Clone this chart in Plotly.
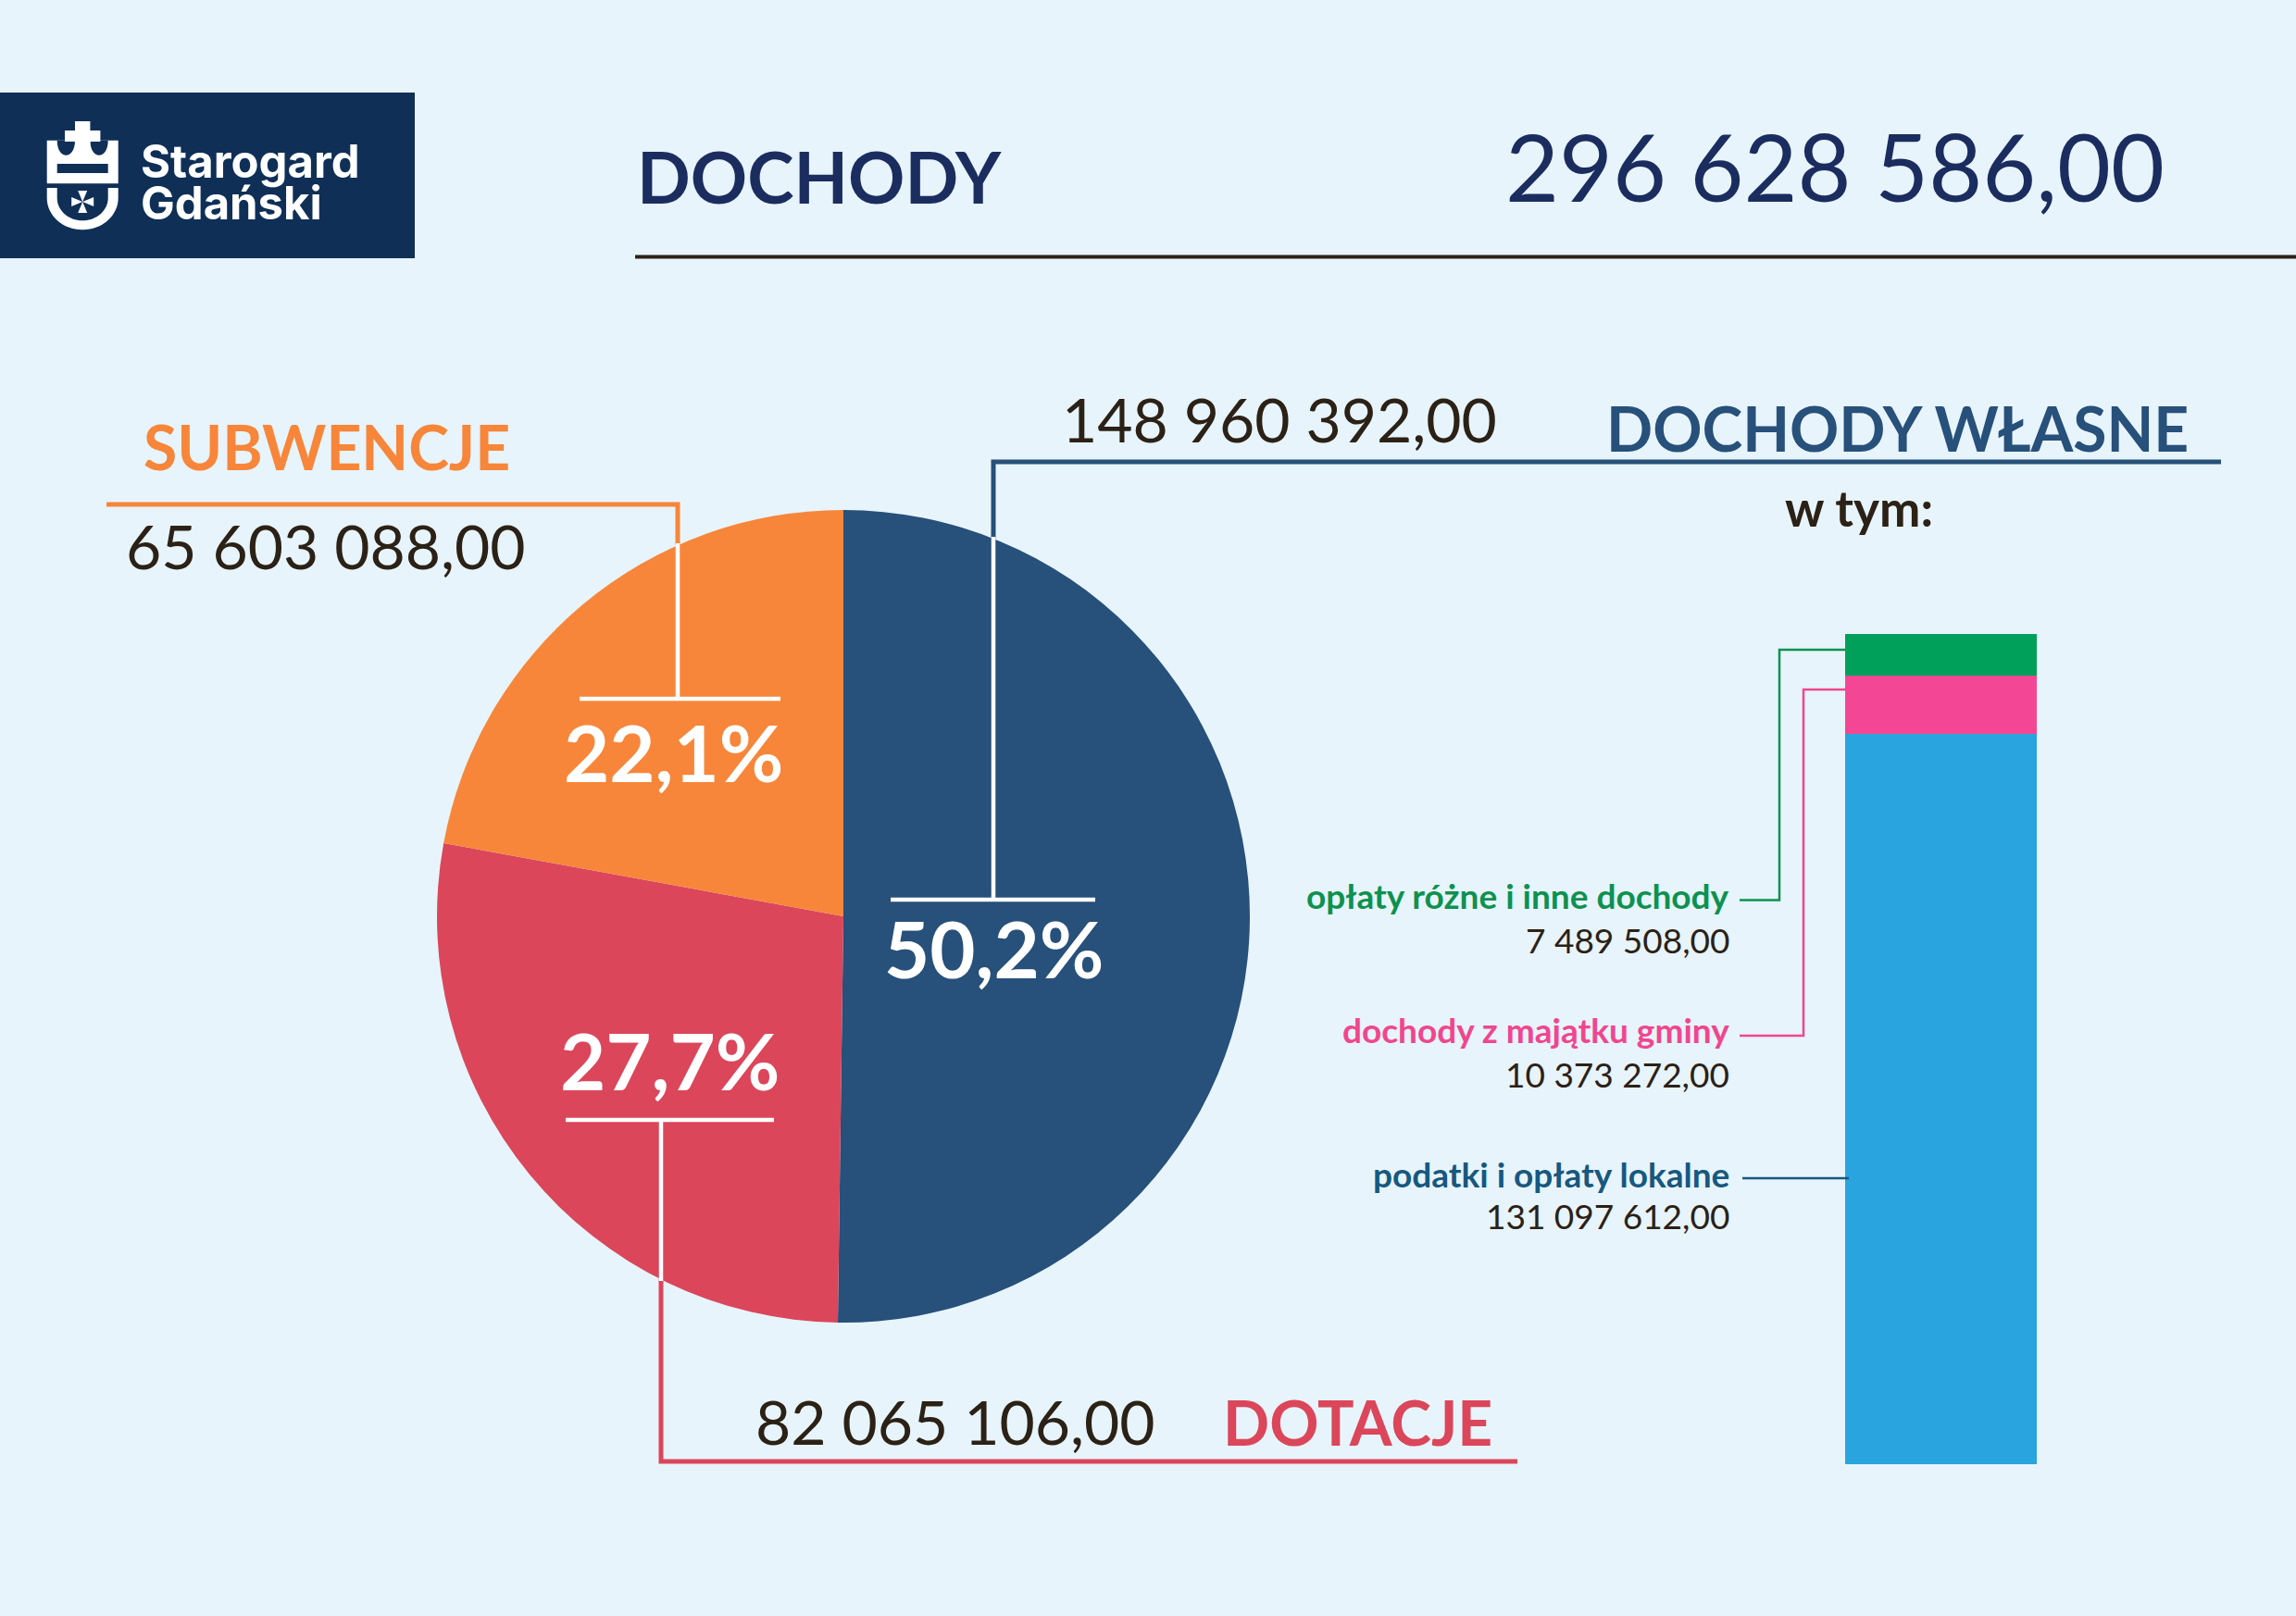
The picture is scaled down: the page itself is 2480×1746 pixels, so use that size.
import plotly.graph_objects as go

# ---------------- data ----------------
pie_labels = ["DOCHODY WŁASNE", "DOTACJE", "SUBWENCJE"]
pie_values = [148960392.00, 82065106.00, 65603088.00]
pie_colors = ["#27507A", "#DB465A", "#F7863A"]

bar_labels = ["podatki i opłaty lokalne", "dochody z majątku gminy", "opłaty różne i inne dochody"]
bar_values = [131097612.00, 10373272.00, 7489508.00]
bar_colors = ["#29A4DE", "#F34795", "#00A05B"]
bar_text_colors = ["#17587F", "#F0468F", "#0E9150"]

title_text = "DOCHODY"
subtitle_text = "w tym:"
logo_lines = ["Starogard", "Gdański"]

W, H = 2480, 1746
BG = "#E7F4FB"
NAVY = "#1B2C5F"
DARK = "#2B2116"
FONT = "Lato"


def money(v):
    return f"{v:,.2f}".replace(",", " ").replace(".", ",")


def pct(v, total):
    return f"{v / total * 100:.1f}".replace(".", ",") + "%"


total = sum(pie_values)
own_total = sum(bar_values)

fig = go.Figure()

# pie (centre 911,990 px, radius 439 px)
cx, cy, r = 911, 990, 439
fig.add_trace(go.Pie(
    labels=pie_labels, values=pie_values, sort=False, direction="clockwise", rotation=0,
    marker=dict(colors=pie_colors, line=dict(width=0)),
    textinfo="none", hoverinfo="label+value", showlegend=False,
    domain=dict(x=[(cx - r) / W, (cx + r) / W], y=[1 - (cy + r) / H, 1 - (cy - r) / H]),
))

# stacked bar of own revenues
for lab, val, col in zip(bar_labels, bar_values, bar_colors):
    fig.add_trace(go.Bar(x=["własne"], y=[val], name=lab, marker=dict(color=col, line=dict(width=0)),
                         showlegend=False, width=1.0, xaxis="x", yaxis="y"))

# invisible overlay axis in pixel units for decorations
fig.add_trace(go.Scatter(x=[], y=[], xaxis="x2", yaxis="y2", showlegend=False))

shapes = []


def line(pts, color, width):
    d = "M " + " L ".join(f"{x},{y}" for x, y in pts)
    shapes.append(dict(type="path", path=d, xref="x2", yref="y2",
                       line=dict(color=color, width=width), fillcolor="rgba(0,0,0,0)", layer="above"))


def rect(x0, y0, x1, y1, color):
    shapes.append(dict(type="rect", x0=x0, y0=y0, x1=x1, y1=y1, xref="x2", yref="y2",
                       fillcolor=color, line=dict(width=0), layer="above"))


def path(d, color):
    shapes.append(dict(type="path", path=d, xref="x2", yref="y2",
                       fillcolor=color, line=dict(width=0), layer="above"))


# logo
LOGO = "#0F2F57"
rect(0, 100, 448, 279, LOGO)
rect(50.7, 151.7, 127.7, 198.3, "white")          # crown body
path("M 61.7,151.7 C 61.7,173 81,173 81,151.7 Z", LOGO)   # dips
path("M 97.4,151.7 C 97.4,173 116.7,173 116.7,151.7 Z", LOGO)
rect(61.7, 177, 116.7, 187, LOGO)                   # slot
rect(81, 131, 97.4, 166, "white")                  # cross
rect(70, 141, 108.4, 153, "white")
# shield
path("M 50.7,203 L 50.7,214 C 50.7,233 68,248.3 89.2,248.3 C 110.4,248.3 127.7,233 127.7,214 "
     "L 127.7,203 L 116.7,203 L 116.7,214 C 116.7,227.4 104.4,238.3 89.2,238.3 "
     "C 74,238.3 61.7,227.4 61.7,214 L 61.7,203 Z", "white")
mx, my = 89.2, 218
path(f"M {mx},{my} L {mx-5},{my-12} L {mx+5},{my-12} Z M {mx},{my} L {mx-5},{my+12} L {mx+5},{my+12} Z "
     f"M {mx},{my} L {mx-12},{my-5} L {mx-12},{my+5} Z M {mx},{my} L {mx+12},{my-5} L {mx+12},{my+5} Z", "white")

# header rule
line([(686, 277.5), (W, 277.5)], DARK, 4)

# leader lines: własne
line([(1073, 582), (1073, 499), (2399, 499)], "#27507A", 5)
line([(1073, 972), (1073, 580)], "white", 4.5)
line([(962, 972), (1183, 972)], "white", 4.5)
# subwencje
line([(115, 545), (732, 545), (732, 589)], "#F7863A", 5)
line([(732, 755), (732, 587)], "white", 4.5)
line([(626, 755), (843, 755)], "white", 4.5)
# dotacje
line([(714, 1382), (714, 1579), (1639, 1579)], "#DB465A", 5)
line([(714, 1210), (714, 1384)], "white", 4.5)
line([(611, 1210), (836, 1210)], "white", 4.5)

# bar connectors
line([(1879, 972.5), (1922, 972.5), (1922, 702), (1993, 702)], bar_text_colors[2], 2.5)
line([(1879, 1119), (1948, 1119), (1948, 745), (1993, 745)], bar_text_colors[1], 2.5)
line([(1882, 1273), (1997, 1273)], bar_text_colors[0], 2.5)

ann = []


def text(t, x, y, size, color, xanchor="left", bold=False, family=FONT):
    ann.append(dict(text=t, x=x, y=y, xref="x2", yref="y2", xanchor=xanchor, yanchor="middle",
                    showarrow=False, font=dict(family=family, size=size, color=color,
                                               weight="bold" if bold else "normal")))


text(logo_lines[0], 150, 174, 49, "white", bold=True, family="Inter")
text(logo_lines[1], 150, 219, 49, "white", bold=True, family="Inter")
text(title_text, 686, 190, 76, NAVY, bold=True)
text(money(total), 1624, 179, 100, NAVY)

text(pie_labels[2], 153, 482, 66, pie_colors[2], bold=True)
text(money(pie_values[2]), 134, 589, 66, DARK)
text(money(pie_values[0]), 1145, 452, 66, DARK)
text(pie_labels[0], 2366, 462, 66, pie_colors[0], xanchor="right", bold=True)
text(subtitle_text, 1926, 548, 53, DARK, bold=True)
text(money(pie_values[1]), 814, 1535, 66, DARK)
text(pie_labels[1], 1319, 1536, 66, pie_colors[1], bold=True)

text(pct(pie_values[2], total), 727, 812, 85, "white", xanchor="center", bold=True)
text(pct(pie_values[0], total), 1073, 1024, 85, "white", xanchor="center", bold=True)
text(pct(pie_values[1], total), 723, 1145, 85, "white", xanchor="center", bold=True)

label_y = [(1268.4, 1313.7), (1112.4, 1160.7), (967.4, 1015.7)]
for lab, val, col, (ly, vy) in zip(bar_labels, bar_values, bar_text_colors, label_y):
    text(lab, 1870, ly, 37, col, xanchor="right", bold=True)
    text(money(val), 1870, vy, 37, DARK, xanchor="right")

fig.update_layout(
    width=W, height=H, margin=dict(l=0, r=0, t=0, b=0),
    paper_bgcolor=BG, plot_bgcolor="rgba(0,0,0,0)",
    barmode="stack", bargap=0,
    xaxis=dict(domain=[1993 / W, 2200 / W], range=[-0.5, 0.5], visible=False, fixedrange=True),
    yaxis=dict(domain=[1 - 1582 / H, 1 - 685 / H], range=[0, own_total], visible=False, fixedrange=True),
    xaxis2=dict(domain=[0, 1], range=[0, W], visible=False, anchor="y2", fixedrange=True),
    yaxis2=dict(domain=[0, 1], range=[H, 0], visible=False, anchor="x2", fixedrange=True),
    shapes=shapes, annotations=ann,
    font=dict(family=FONT),
)

fig.write_html("out.html")
